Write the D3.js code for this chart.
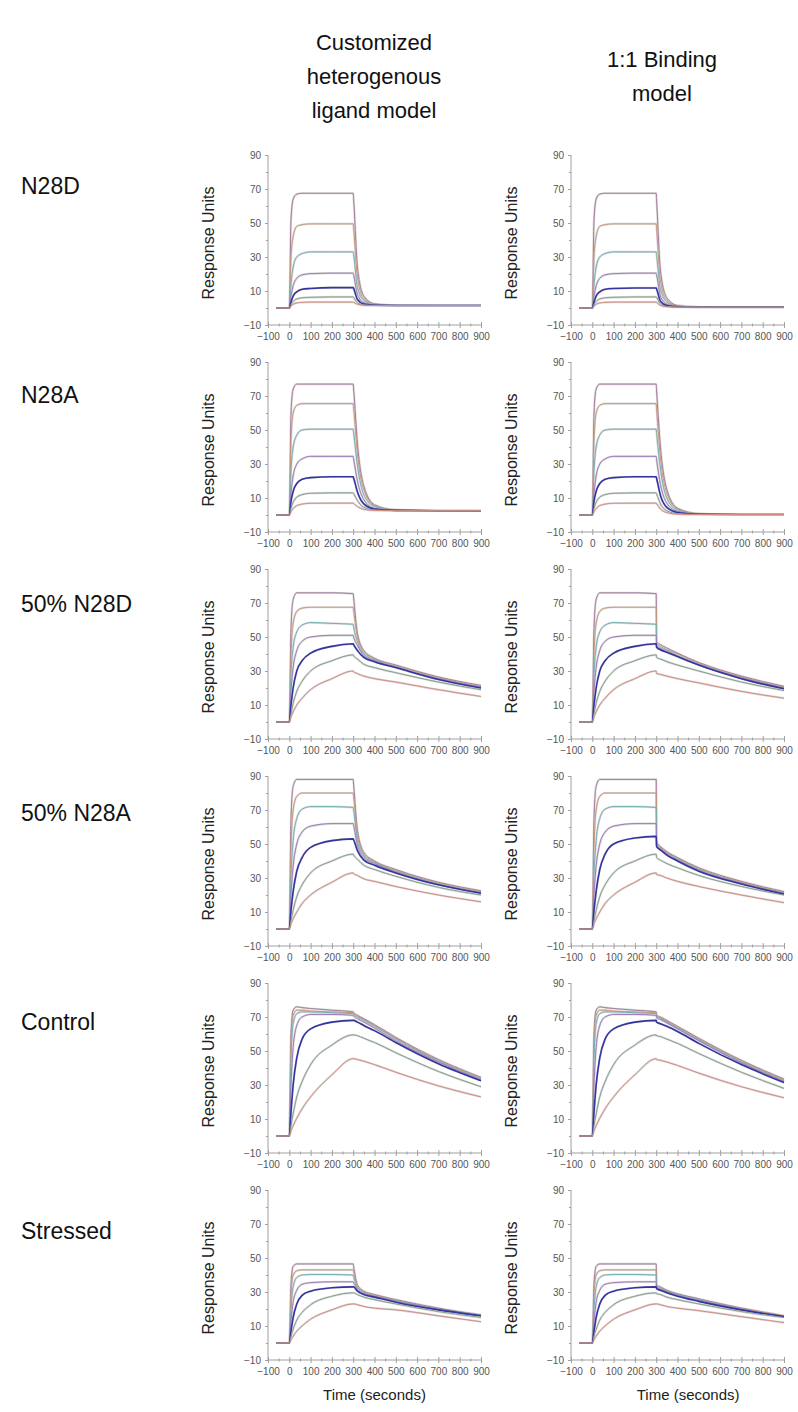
<!DOCTYPE html>
<html>
<head>
<meta charset="utf-8">
<script src="https://cdn.jsdelivr.net/npm/d3@7"></script>
<style>
  body { margin: 0; background: #fff; }
  text { font-family: "Liberation Sans", Arial, sans-serif; }
</style>
</head>
<body>
<div id="chart"></div>
<script>
// sample times (seconds), shared by every curve
const times = [-60, 0, 8, 18, 35, 60, 100, 200, 300, 302, 320, 350, 400, 500, 700, 900];

const rowNames = ['N28D', 'N28A', '50% N28D', '50% N28A', 'Control', 'Stressed'];
const colTitles = [['Customized', 'heterogenous', 'ligand model'], ['1:1 Binding', 'model']];
const yTicks = [-10, 10, 30, 50, 70, 90];
const yMinor = [0, 20, 40, 60, 80];
const xTicks = [-100, 0, 100, 200, 300, 400, 500, 600, 700, 800, 900];
const xMinor = [-50, 50, 150, 250, 350, 450, 550, 650, 750, 850];
const curveColors = ['#a77c9b', '#c99a78', '#74b0b6', '#a07ab6', '#3434a2', '#84a08a', '#d68c80'];

// response units, one row per concentration (highest first)
const n28dHet = [
  [0,0,52,64,67,67.5,67.5,67.5,67.5,64,24,7,2.5,1.6,1.5,1.5],
  [0,0,30,42,48,49,49.5,49.5,49.5,47,18,5.5,2.3,1.6,1.5,1.5],
  [0,0,14,24,30,32,33,33,33,31.5,12,4.5,2,1.6,1.5,1.5],
  [0,0,7,13,17.5,19.5,20.2,20.5,20.5,19.5,8,3.2,1.8,1.5,1.5,1.5],
  [0,0,3.5,7,9.5,11,11.5,12,12,11.5,5,2.3,1.6,1.5,1.5,1.5],
  [0,0,2,3.8,5.3,6,6.3,6.5,6.5,6.2,3,1.8,1.5,1.5,1.5,1.5],
  [0,0,1.2,2.2,3,3.3,3.5,3.5,3.5,3.3,2.2,1.6,1.5,1.5,1.5,1.5]
];
const n28d11 = [
  [0,0,52,64,67,67.5,67.5,67.5,67.5,63,22,6,1.5,0.6,0.5,0.5],
  [0,0,30,42,48,49,49.5,49.5,49.5,46.5,16,4.5,1.2,0.6,0.5,0.5],
  [0,0,14,24,30,32,33,33,33,31,11,3.5,1,0.6,0.5,0.5],
  [0,0,7,13,17.5,19.5,20.2,20.5,20.5,19.5,7,2.3,0.9,0.5,0.5,0.5],
  [0,0,3.5,7,9.5,11,11.5,11.8,11.8,11.2,4,1.4,0.7,0.5,0.5,0.5],
  [0,0,2,3.8,5.3,6,6.3,6.5,6.5,6.2,2.3,0.9,0.6,0.5,0.5,0.5],
  [0,0,1.2,2.2,3,3.3,3.5,3.5,3.5,3.3,1.5,0.7,0.5,0.5,0.5,0.5]
];
const n28aHet = [
  [0,0,60,74,77,77,77,77,77,74,42,17,6,3,2.6,2.5],
  [0,0,44,60,64.5,65.5,65.5,65.5,65.5,63,36,15,5.5,3,2.6,2.5],
  [0,0,26,40,47,50,50.5,50.5,50.5,48.5,29,12,5,3,2.6,2.5],
  [0,0,13,23,30,33,34.5,34.5,34.5,33,20,9,4,2.8,2.6,2.5],
  [0,0,8,14,18.5,21,22,22.5,22.5,21.8,13.5,6.5,3.5,2.7,2.5,2.5],
  [0,0,4,7.5,10.5,12,12.8,13,13,12.6,8.5,4.5,3,2.6,2.5,2.5],
  [0,0,2,3.8,5.5,6.4,6.9,7,7,6.8,5,3.3,2.7,2.5,2.5,2.5]
];
const n28a11 = [
  [0,0,60,74,77,77,77,77,77,73,40,15,4,0.8,0.3,0.3],
  [0,0,44,60,64.5,65.5,65.5,65.5,65.5,62,34,13,3.5,0.7,0.3,0.3],
  [0,0,26,40,47,50,50.5,50.5,50.5,48,27,10,3,0.6,0.3,0.3],
  [0,0,13,23,30,33,34.5,34.5,34.5,32.5,18,7,2.2,0.5,0.3,0.3],
  [0,0,8,14,18.5,21,22,22.5,22.5,21.5,11.5,4.5,1.5,0.4,0.3,0.3],
  [0,0,4,7.5,10.5,12,12.8,13,13,12.4,6.5,2.5,0.8,0.3,0.3,0.3],
  [0,0,2,3.8,5.5,6.4,6.9,7,7,6.7,3.5,1.4,0.5,0.3,0.3,0.3]
];
const mix28dHet = [
  [0,0,55,72,76,76,76,76,75.5,73,52,42,37.5,33.5,26.5,21.5],
  [0,0,40,58,65,67,67.5,67.5,67.5,65.5,50,41,37,33,26,21],
  [0,0,28,44,53,57,58.5,58,57.5,56,47,40,36.5,32.5,25.5,20.5],
  [0,0,18,32,42,47.5,50,51,51,50,45,39,36,32,25.5,20.5],
  [0,0,10,20,30,36,40.5,44.5,46,45.5,42,38,35.5,32,25,20],
  [0,0,5,11,18,24,30,36,39.5,39,37,34,32,29,23.5,19],
  [0,0,3,6,10,14,19,25.5,30,29.5,28.5,27,25.5,23.5,19,15]
];
const mix28d11 = [
  [0,0,55,72,76,76,76,76,75.5,47,45.5,43.5,40.5,35,27,21],
  [0,0,40,58,65,67,67.5,67.5,67.5,46,44.5,42.5,40,34.5,26.5,20.5],
  [0,0,28,44,53,57,58.5,58,57.5,45,43.5,42,39,34,26,20],
  [0,0,18,32,42,47.5,50,51,51,44,43,41,38.5,33.5,26,20],
  [0,0,10,20,30,36,40.5,44.5,46,44,42.5,41,38.5,33.5,25.5,19.5],
  [0,0,5,11,18,24,30,36,39.5,38,37,35.5,33.5,30,23.5,18.5],
  [0,0,3,6,10,14,19,25.5,30,28.5,28,27,25.5,23,18,14]
];
const mix28aHet = [
  [0,0,65,84,88,88,88,88,88,85,58,45,40,35,27.5,22.5],
  [0,0,48,70,78,80,80,80,80,78,55,44,39.5,34.5,27,22],
  [0,0,32,52,65,70.5,72,72,71.5,70,52,43,39,34,26.5,21.5],
  [0,0,20,37,50,57,60.5,62,62,61,49,42,38.5,33.5,26,21.5],
  [0,0,11,22,34,42,48,52,53,52.5,46,40.5,37.5,33,26,21],
  [0,0,5,11,19,26,33,40,44,43.5,41,37.5,35,31,24.5,20],
  [0,0,3,6,10,15,20,27.5,33,32.5,31.5,29.5,28,25,20,16]
];
const mix28a11 = [
  [0,0,65,84,88,88,88,88,88,51,48.5,45.5,42,36,28,22],
  [0,0,48,70,78,80,80,80,80,50,48,45,41.5,35.5,27.5,21.5],
  [0,0,32,52,65,70.5,72,72,71.5,49.5,47.5,44.5,41,35,27,21],
  [0,0,20,37,50,57,60.5,62,62,49,47,44,40.5,34.5,27,21],
  [0,0,11,22,35,44,50,53.5,54.5,48.5,46.5,43.5,40,34,26.5,20.5],
  [0,0,5,11,19,26,33,40,44,42,40.5,38.5,36,31.5,25,20],
  [0,0,3,6,10,15,20,27.5,33,32,31.5,30,28,25,20,15.5]
];
const controlHet = [
  [0,0,60,74,76,75.5,75,74,73,72.5,71,69,65.5,58,45,34.5],
  [0,0,55,71,74,74,73.5,73,72.5,72,70.5,68.5,65,57.5,44.5,34],
  [0,0,45,66,72,73,73,72.5,72,71.5,70,68,64.5,57,44,33.5],
  [0,0,30,52,65,70,71.5,71.5,71,70.5,69,67,63.5,56,43.5,33],
  [0,0,14,30,46,57,63,67,68,68,67,65,62,55,42.5,32.5],
  [0,0,6,13,23,32,42,53.5,59.5,59.5,59,57.5,55,49,38,29],
  [0,0,3,6,10.5,16,23,36,45.5,45.5,45,44,42,37.5,29.5,23]
];
const control11 = [
  [0,0,60,74,76,75.5,75,74,73,71,70,68,64.5,57.5,44.5,33.5],
  [0,0,55,71,74,74,73.5,73,72.5,70.5,69.5,67.5,64,57,44,33],
  [0,0,45,66,72,73,73,72.5,72,70,69,67,63.5,56.5,43.5,32.5],
  [0,0,30,52,65,70,71.5,71.5,71,69.5,68.5,66.5,63,56,43,32],
  [0,0,14,30,46,57,63,67,68,67,66,64.5,61.5,54.5,42,31.5],
  [0,0,6,13,23,32,42,53.5,59.5,59,58.5,57,54.5,48.5,37.5,28],
  [0,0,3,6,10.5,16,23,36,45.5,45,44.5,43.5,41.5,37,29,22.5]
];
const stressedHet = [
  [0,0,35,45,46.5,46.5,46.5,46.5,46.5,45,34,30.5,28.5,25.5,20.5,16.5],
  [0,0,28,40,42.5,43,43,43,43,42,33,30,28,25,20,16.5],
  [0,0,20,33,38.5,40,40.3,40.3,40,39,32.5,29.5,27.5,25,20,16.5],
  [0,0,13,24,31,34.5,35.5,36,36,35.5,31.5,29,27.5,24.5,20,16],
  [0,0,7,15,23,28,30.5,32.5,33,33,30.5,28.5,27,24,19.5,16],
  [0,0,4,8,13.5,18,22.5,27.5,29.5,29.5,28.5,27,25.5,23,18.5,15],
  [0,0,2,4,7,10,14,19.5,23,23,22.5,21.5,20.5,19.5,16,12.5]
];
const stressed11 = [
  [0,0,35,45,46.5,46.5,46.5,46.5,46.5,34,33,31,29,26,20.5,16],
  [0,0,28,40,42.5,43,43,43,43,33.5,32.5,30.5,28.5,25.5,20.5,16],
  [0,0,20,33,38.5,40,40.3,40.3,40,33,32,30.5,28.5,25.5,20,15.5],
  [0,0,13,24,31,34.5,35.5,36,36,32.5,31.5,30,28,25,20,15.5],
  [0,0,7,15,23,28,30.5,32.5,33,32,31,29.5,27.5,24.5,19.5,15.5],
  [0,0,4,8,13.5,18,22.5,27.5,29.5,29,28.5,27,25.5,23,18.5,15],
  [0,0,2,4,7,10,14,19.5,23,23,22.5,21.5,20.5,19,15.5,12]
];

const panels = [
  [n28dHet, n28d11],
  [n28aHet, n28a11],
  [mix28dHet, mix28d11],
  [mix28aHet, mix28a11],
  [controlHet, control11],
  [stressedHet, stressed11]
];

const w = 798;
const h = 1412;
const colX = [268, 571];
const plotW = 213;
const plotH = 170;
const rowTop = i => 155 + 207 * i;

const svg = d3.select('#chart')
  .append('svg')
  .attr('width', w)
  .attr('height', h)
  .style('background', '#fff');

// column headings
colTitles.forEach((lines, c) => {
  const cx = c === 0 ? 374 : 662;
  const y0 = c === 0 ? 50 : 67;
  lines.forEach((t, k) => {
    svg.append('text')
      .attr('x', cx)
      .attr('y', y0 + k * 34)
      .attr('text-anchor', 'middle')
      .attr('font-size', 22)
      .attr('fill', '#111')
      .text(t);
  });
});

// row names
rowNames.forEach((name, i) => {
  svg.append('text')
    .attr('x', 21)
    .attr('y', 194 + 209 * i)
    .attr('font-size', 23)
    .attr('fill', '#111')
    .text(name);
});

const axisColor = '#a0a0a0';

panels.forEach((pair, i) => {
  pair.forEach((series, c) => {
    const x0 = colX[c];
    const top = rowTop(i);

    const xScale = d3.scaleLinear().domain([-100, 900]).range([x0, x0 + plotW]);
    const yScale = d3.scaleLinear().domain([-10, 90]).range([top + plotH, top]);

    const g = svg.append('g');

    // y axis
    const yAxis = g.append('g')
      .attr('transform', 'translate(' + x0 + ',0)')
      .call(d3.axisLeft(yScale).tickValues(yTicks).tickSize(3).tickPadding(4));
    g.append('g')
      .attr('transform', 'translate(' + x0 + ',0)')
      .call(d3.axisLeft(yScale).tickValues(yMinor).tickSize(2).tickFormat(''))
      .call(a => a.select('.domain').remove());

    // x axis along the -10 line
    const xAxis = g.append('g')
      .attr('transform', 'translate(0,' + yScale(-10) + ')')
      .call(d3.axisBottom(xScale).tickValues(xTicks).tickSize(3).tickPadding(5));
    xAxis.selectAll('.tick line').attr('y1', -3);
    g.append('g')
      .attr('transform', 'translate(0,' + yScale(-10) + ')')
      .call(d3.axisBottom(xScale).tickValues(xMinor).tickSize(1.5).tickFormat(''))
      .call(a => a.select('.domain').remove())
      .selectAll('.tick line').attr('y1', -1.5);

    g.selectAll('.domain').attr('stroke', axisColor);
    g.selectAll('.tick line').attr('stroke', axisColor);
    g.selectAll('.tick text')
      .attr('fill', '#555')
      .attr('font-size', 10)
      .attr('font-family', '"Liberation Sans", Arial, sans-serif');

    // plain axis lines, no end caps
    yAxis.select('.domain').attr('d', 'M0,' + yScale(90) + 'V' + yScale(-10));
    xAxis.select('.domain').attr('d', 'M' + xScale(-100) + ',0H' + xScale(900));

    // y title
    g.append('text')
      .attr('transform', 'translate(' + (x0 - 54) + ',' + (top + 88) + ') rotate(-90)')
      .attr('text-anchor', 'middle')
      .attr('font-size', 16)
      .attr('fill', '#222')
      .text('Response Units');

    const line = d3.line()
      .x((d, k) => xScale(times[k]))
      .y(d => yScale(d))
      .curve(d3.curveMonotoneX);

    // faint grey trace under each fitted curve
    g.selectAll('path.raw')
      .data(series)
      .enter()
      .append('path')
      .attr('class', 'raw')
      .attr('d', line)
      .attr('fill', 'none')
      .attr('stroke', '#dadada')
      .attr('stroke-width', 2.2);

    g.selectAll('path.fit')
      .data(series)
      .enter()
      .append('path')
      .attr('class', 'fit')
      .attr('d', line)
      .attr('fill', 'none')
      .attr('stroke', (d, k) => curveColors[k])
      .attr('stroke-width', (d, k) => k === 4 ? 1.6 : 1);

    if (i === panels.length - 1) {
      svg.append('text')
        .attr('x', (c === 0 ? xScale(400) : xScale(450)))
        .attr('y', 1400)
        .attr('text-anchor', 'middle')
        .attr('font-size', 15)
        .attr('fill', '#222')
        .text('Time (seconds)');
    }
  });
});
</script>
</body>
</html>
